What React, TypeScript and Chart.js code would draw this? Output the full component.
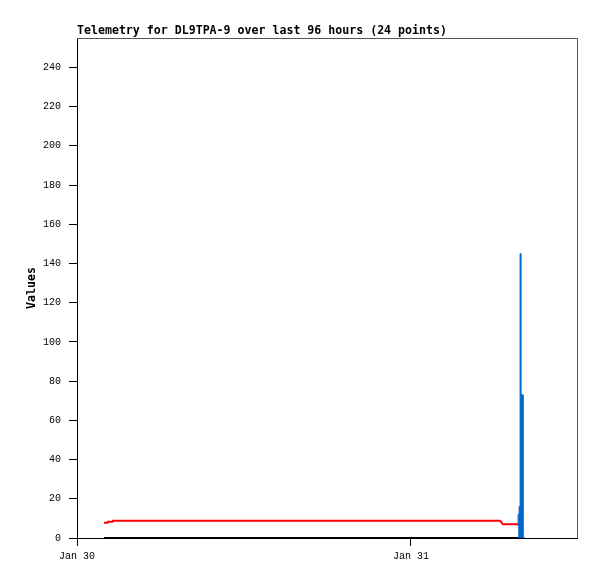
import React, { useEffect, useRef } from "react";
import { Chart, registerables } from "chart.js";

Chart.register(...registerables);

// Hours since Jan 30 00:00
const xTickValues = [0, 24];
const xTickLabels = ["Jan 30", "Jan 31"];
const xMin = 0;
const xMax = 35.93;

const yMin = 0;
const yMax = 255;
const yStep = 20;

// Red channel
const redHours = [1.94, 2.2, 2.23, 2.56, 2.59, 30.4, 30.61, 31.72];
const redValues = [7.8, 7.8, 8.3, 8.3, 8.8, 8.8, 7.0, 7.0];

// Black channel
const blackHours = [1.94, 32.15];
const blackValues = [0, 0];

// Blue channel (filled)
const blueHours = [31.7, 31.77, 31.84, 31.91, 32.07, 32.15];
const blueValues = [6, 12, 16, 145, 73, 0];

const titleText = "Telemetry for DL9TPA-9 over last 96 hours (24 points)";
const yTitle = "Values";

const toPoints = (xs: number[], ys: number[]) => xs.map((x, i) => ({ x, y: ys[i] }));

const frameBorder = {
  id: "frameBorder",
  afterDatasetsDraw(chart: any) {
    const { ctx, chartArea } = chart;
    ctx.save();
    ctx.strokeStyle = "#555555";
    ctx.lineWidth = 1;
    ctx.beginPath();
    ctx.moveTo(chartArea.left, Math.round(chartArea.top) + 0.5);
    ctx.lineTo(Math.round(chartArea.right) + 0.5, Math.round(chartArea.top) + 0.5);
    ctx.lineTo(Math.round(chartArea.right) + 0.5, chartArea.bottom);
    ctx.stroke();
    ctx.restore();
  },
};

export default function App() {
  const ref = useRef<HTMLCanvasElement | null>(null);

  useEffect(() => {
    if (!ref.current) return;
    const chart = new Chart(ref.current, {
      type: "line",
      data: {
        datasets: [
          {
            data: toPoints(blueHours, blueValues),
            borderColor: "#0066cc",
            backgroundColor: "#0066cc",
            borderWidth: 1,
            fill: "origin",
            stepped: "after",
            pointRadius: 0,
            order: 0,
          },
          {
            data: toPoints(redHours, redValues),
            borderColor: "#ff0000",
            borderWidth: 2,
            fill: false,
            pointRadius: 0,
            order: 1,
          },
          {
            data: toPoints(blackHours, blackValues),
            borderColor: "#000000",
            borderWidth: 2,
            fill: false,
            pointRadius: 0,
            clip: false as any,
            order: 2,
          },
        ],
      },
      options: {
        animation: false,
        responsive: false,
        devicePixelRatio: 1,
        layout: { padding: { left: 0, right: 20, top: 0, bottom: 0 } },
        plugins: {
          legend: { display: false },
          tooltip: { enabled: false },
          title: {
            display: true,
            text: titleText,
            align: "start",
            fullSize: false,
            color: "#000000",
            font: { family: "'DejaVu Sans Mono', monospace", size: 11.6, weight: "bold" },
            padding: { top: 24, bottom: 0.08 },
          },
        },
        scales: {
          x: {
            type: "linear",
            min: xMin,
            max: xMax,
            afterBuildTicks: (scale: any) => {
              scale.ticks = xTickValues.map((v) => ({ value: v }));
            },
            afterFit: (scale: any) => {
              scale.height = 41;
            },
            ticks: {
              callback: (v: any) => {
                const i = xTickValues.indexOf(Number(v));
                return i >= 0 ? xTickLabels[i] : "";
              },
              color: "#000000",
              font: { family: "'Liberation Mono', monospace", size: 10 },
              padding: 4,
              maxRotation: 0,
              autoSkip: false,
            },
            grid: {
              drawOnChartArea: false,
              drawTicks: true,
              tickLength: 8,
              color: "#000000",
            },
            border: { display: true, color: "#000000", width: 1 },
          },
          y: {
            type: "linear",
            min: yMin,
            max: yMax,
            afterFit: (scale: any) => {
              scale.width = 77;
            },
            ticks: {
              stepSize: yStep,
              includeBounds: false,
              color: "#000000",
              font: { family: "'Liberation Mono', monospace", size: 10 },
              padding: 8,
            },
            grid: {
              drawOnChartArea: false,
              drawTicks: true,
              tickLength: 8,
              color: "#000000",
            },
            border: { display: true, color: "#000000", width: 1 },
            title: {
              display: true,
              text: yTitle,
              color: "#000000",
              font: { family: "'DejaVu Sans Mono', monospace", size: 11.6, weight: "bold" },
              padding: { top: 25.5, bottom: 0 },
            },
          },
        },
      },
      plugins: [frameBorder],
    });
    return () => chart.destroy();
  }, []);

  return (
    <div style={{ position: "absolute", left: 0, top: 0, width: 597, height: 579, background: "#ffffff" }}>
      <canvas ref={ref} width={597} height={579} style={{ width: 597, height: 579 }} />
    </div>
  );
}
